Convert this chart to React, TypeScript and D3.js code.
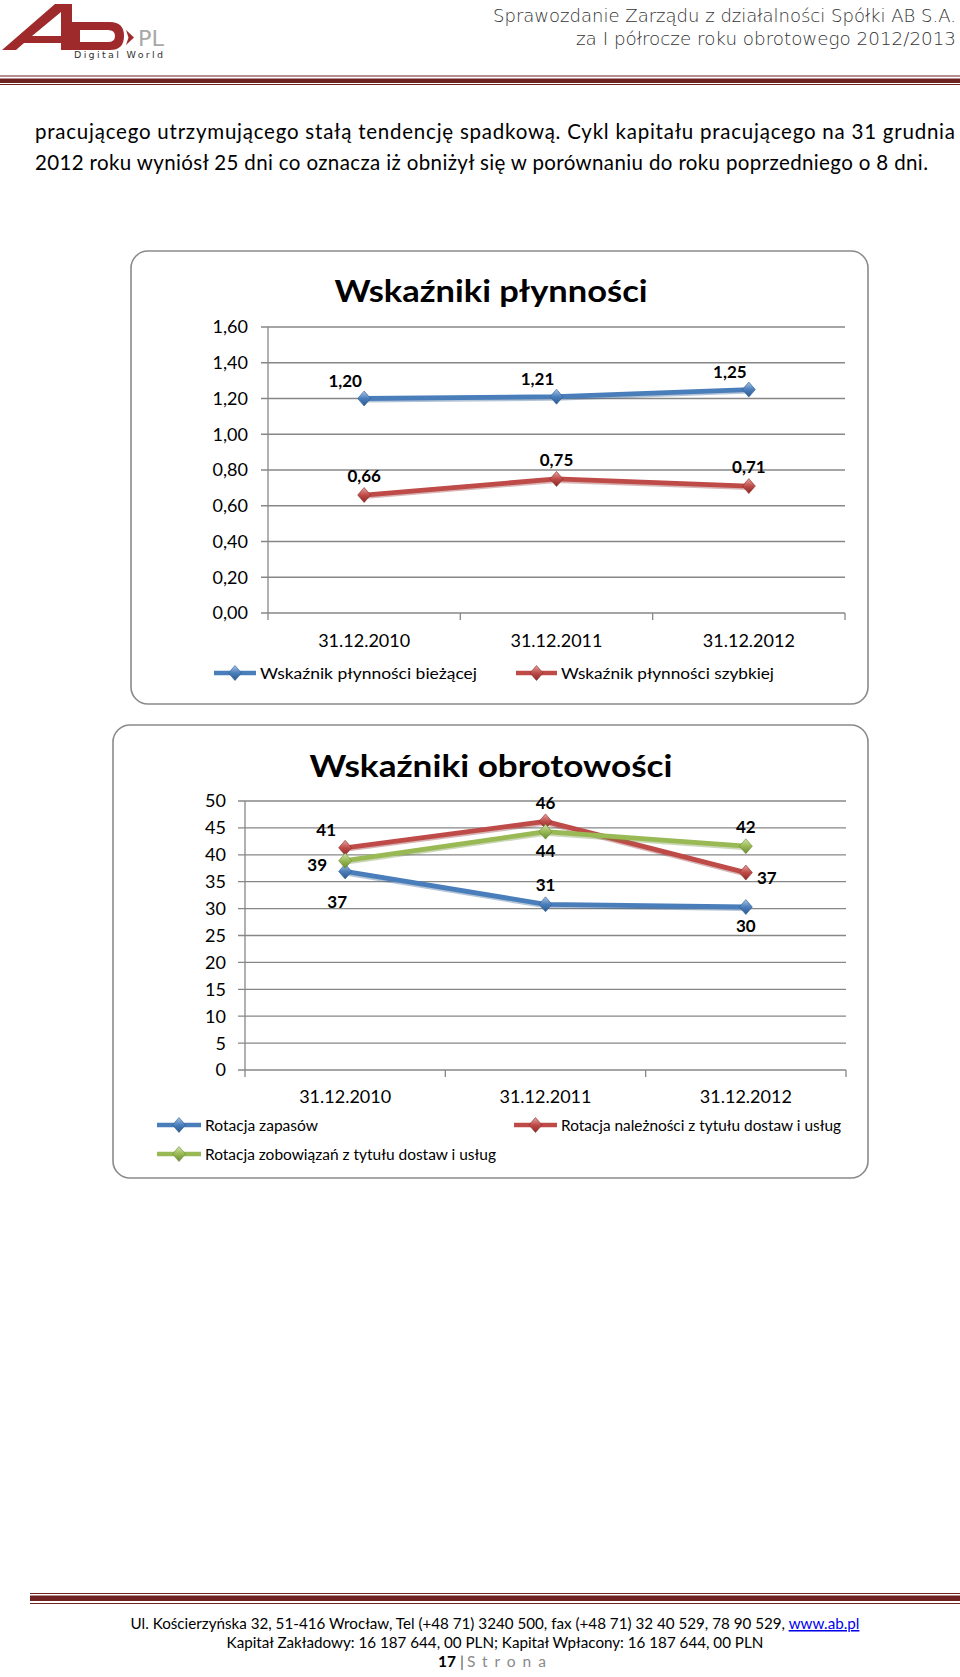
import React from 'react';
import * as d3 from 'd3';

// ---- data ----
const dates = ['31.12.2010', '31.12.2011', '31.12.2012'];

const liquidityNames = ['Wskaźnik płynności bieżącej', 'Wskaźnik płynności szybkiej'];
const liquidityCurrent = [1.2, 1.21, 1.25];
const liquidityQuick = [0.66, 0.75, 0.71];
const liquidityTicks = [0, 0.2, 0.4, 0.6, 0.8, 1.0, 1.2, 1.4, 1.6];

const turnoverNames = [
  'Rotacja zapasów',
  'Rotacja należności z tytułu dostaw i usług',
  'Rotacja zobowiązań z tytułu dostaw i usług',
];
const turnoverInventory = [36.9, 30.8, 30.3];
const turnoverReceivables = [41.3, 46.2, 36.7];
const turnoverPayables = [38.9, 44.3, 41.6];
const turnoverTicks = [0, 5, 10, 15, 20, 25, 30, 35, 40, 45, 50];

// where each value label sits relative to its marker
const liquidityLabelPos = [
  ['aboveLeft', 'aboveLeft', 'aboveLeft'],
  ['above', 'above', 'above'],
];
const turnoverLabelPos = [
  ['belowFar', 'above', 'below'],
  ['aboveLeft', 'above', 'right'],
  ['left', 'below', 'above'],
];

const COLORS = ['#4a7ebb', '#be4b48', '#98b954'];
const DARK = ['#2c5a8f', '#8c2a28', '#6b8c34'];
const LIGHT = ['#a9c4e8', '#e6a4a2', '#d0e4a8'];

const FONT = 'Lato, "Open Sans", sans-serif';
const comma = (f) => (v) => f(v).replace('.', ',');

const labelOffsets = {
  above: [0, -19],
  below: [0, 19],
  left: [-28, 4],
  right: [21, 5],
  aboveLeft: [-19, -18],
  belowFar: [-8, 30],
};

const Diamond = ({ x, y, i, gid }) => (
  <path
    transform={`translate(${x},${y})`}
    d="M0,-7.5L6.5,0L0,7.5L-6.5,0Z"
    fill={`url(#${gid}${i})`}
    stroke={DARK[i]}
    strokeWidth={0.6}
  />
);

const LineChart = ({ id, box, plot, title, titleY, titleLen, series, names, ticks, fmt, tickRight,
  labelPos, xLabelY, legend }) => {
  const x = d3.scaleBand().domain(dates).range([plot.left, plot.right]);
  const y = d3.scaleLinear().domain([ticks[0], ticks[ticks.length - 1]]).range([plot.bottom, plot.top]);
  const cx = (d) => x(d) + x.bandwidth() / 2;
  const line = d3.line().x((d, k) => cx(dates[k])).y((d) => y(d));
  const bounds = d3.range(dates.length + 1).map((k) => plot.left + k * x.bandwidth());

  return (
    <g>
      <defs>
        {series.map((s, i) => (
          <linearGradient key={i} id={`${id}${i}`} x1="0" y1="0" x2="0" y2="1">
            <stop offset="0" stopColor={LIGHT[i]} />
            <stop offset="0.5" stopColor={COLORS[i]} />
            <stop offset="1" stopColor={DARK[i]} />
          </linearGradient>
        ))}
      </defs>
      <rect x={box.x} y={box.y} width={box.w} height={box.h} rx={17} fill="#fff" stroke="#8a8a8a" strokeWidth={1.6} />
      <text x={491} y={titleY} textAnchor="middle" fontFamily={FONT} fontWeight="bold"
        fontSize={31} textLength={titleLen} lengthAdjust="spacingAndGlyphs">{title}</text>

      {/* gridlines + y ticks */}
      {ticks.map((t) => (
        <g key={t}>
          <line x1={plot.left - 7} x2={plot.right} y1={y(t)} y2={y(t)} stroke="#878787" strokeWidth={1.3} />
          <text x={tickRight} y={y(t)} dy="0.36em" textAnchor="end" fontFamily={FONT} fontSize={18}>{fmt(t)}</text>
        </g>
      ))}
      <line x1={plot.left} x2={plot.left} y1={plot.top} y2={plot.bottom} stroke="#878787" strokeWidth={1.3} />
      {bounds.map((b) => (
        <line key={b} x1={b} x2={b} y1={plot.bottom} y2={plot.bottom + 7} stroke="#878787" strokeWidth={1.3} />
      ))}
      {dates.map((d) => (
        <text key={d} x={cx(d)} y={xLabelY} textAnchor="middle" fontFamily={FONT} fontSize={18}>{d}</text>
      ))}

      {/* series */}
      {series.map((s, i) => (
        <g key={i}>
          <path d={line(s)} fill="none" stroke={DARK[i]} strokeOpacity={0.35} strokeWidth={5} transform="translate(0,1.5)" />
          <path d={line(s)} fill="none" stroke={COLORS[i]} strokeWidth={4.8} strokeLinejoin="round" />
          {s.map((v, k) => (
            <Diamond key={k} x={cx(dates[k])} y={y(v)} i={i} gid={id} />
          ))}
        </g>
      ))}
      {series.map((s, i) =>
        s.map((v, k) => {
          const [dx, dy] = labelOffsets[labelPos[i][k]];
          return (
            <text key={`${i}-${k}`} x={cx(dates[k]) + dx} y={y(v) + dy} dy="0.36em" textAnchor="middle"
              fontFamily={FONT} fontWeight="bold" fontSize={17}>{fmt(v)}</text>
          );
        })
      )}

      {/* legend */}
      {legend.map((l, i) => (
        <g key={i}>
          <line x1={l.x1} x2={l.x2} y1={l.y} y2={l.y} stroke={COLORS[i]} strokeWidth={4.5} />
          <Diamond x={(l.x1 + l.x2) / 2} y={l.y} i={i} gid={id} />
          <text x={l.x2 + 4} y={l.y + 6} fontFamily={FONT} fontSize={15.5} textLength={l.len}
            lengthAdjust="spacingAndGlyphs">{names[i]}</text>
        </g>
      ))}
    </g>
  );
};

const Header = () => (
  <g>
    <path d="M2,50L55,4L72,4L72,50L61,50L61,43L24,43L16,50Z M32,36L61,36L61,12Z" fill="#9e2a2b" fillRule="evenodd" />
    <path d="M72,22L110,22Q124,22 124,36Q124,50 110,50L72,50Z M80,30L108,30Q115,30 115,36Q115,42 108,42L80,42Z"
      fill="#9e2a2b" fillRule="evenodd" />
    <path d="M126,30L134,37.5L126,45L128.5,37.5Z" fill="#9e2a2b" />
    <text x={138} y={46} fontFamily="DejaVu Sans" fontSize={21} fill="#a8a8a8" textLength={26}
      lengthAdjust="spacingAndGlyphs">PL</text>
    <text x={74} y={58} fontFamily="DejaVu Sans" fontSize={9.5} fill="#333" textLength={89}
      lengthAdjust="spacing">Digital World</text>
    <text x={956} y={22} textAnchor="end" fontFamily="DejaVu Sans" fontWeight={200} fontSize={17} fill="#333"
      textLength={463} lengthAdjust="spacingAndGlyphs">Sprawozdanie Zarządu z działalności Spółki AB S.A.</text>
    <text x={956} y={45} textAnchor="end" fontFamily="DejaVu Sans" fontWeight={200} fontSize={17} fill="#333"
      textLength={380} lengthAdjust="spacingAndGlyphs">za I półrocze roku obrotowego 2012/2013</text>
    <rect x={0} y={75.5} width={960} height={1} fill="#6e2222" />
    <rect x={0} y={78.5} width={960} height={4.5} fill="#6e2222" />
    <rect x={0} y={84} width={960} height={1} fill="#6e2222" />
  </g>
);

const Body = () => (
  <g fontFamily={FONT} fontSize={20.5} fill="#000">
    <text x={35} y={139} textLength={920} lengthAdjust="spacing">
      pracującego utrzymującego stałą tendencję spadkową. Cykl kapitału pracującego na 31 grudnia
    </text>
    <text x={35} y={170} textLength={893} lengthAdjust="spacing">
      2012 roku wyniósł 25 dni co oznacza iż obniżył się w porównaniu do roku poprzedniego o 8 dni.
    </text>
  </g>
);

const Footer = () => (
  <g fontFamily={FONT}>
    <rect x={30} y={1593} width={930} height={1} fill="#6e2222" />
    <rect x={30} y={1595.5} width={930} height={5.5} fill="#6e2222" />
    <rect x={30} y={1603} width={930} height={1} fill="#6e2222" />
    <text x={495} y={1629} textAnchor="middle" fontSize={15.2}>
      Ul. Kościerzyńska 32, 51-416 Wrocław, Tel (+48 71) 3240 500, fax (+48 71) 32 40 529, 78 90 529,{' '}
      <tspan fill="#0000ee" textDecoration="underline">www.ab.pl</tspan>
    </text>
    <text x={495} y={1648} textAnchor="middle" fontSize={15.2}>
      Kapitał Zakładowy: 16 187 644, 00 PLN; Kapitał Wpłacony:  16 187 644, 00 PLN
    </text>
    <text x={438} y={1667} fontSize={15.5}>
      <tspan fontWeight="bold">17</tspan>
      <tspan dx={4} fill="#555">|</tspan>
      <tspan dx={3} fill="#8a8a8a" letterSpacing={7}>Strona</tspan>
    </text>
  </g>
);

export default function App() {
  const fmt2 = comma(d3.format('.2f'));
  const fmt0 = d3.format('.0f');
  return (
    <div style={{ position: 'absolute', left: 0, top: 0 }}>
      <svg width={960} height={1677} style={{ display: 'block', background: '#fff' }}>
        <rect width={960} height={1677} fill="#fff" />
        <Header />
        <Body />
        <LineChart
          id="liq"
          box={{ x: 131, y: 251, w: 737, h: 453 }}
          plot={{ left: 268, right: 845, top: 327, bottom: 613 }}
          title="Wskaźniki płynności"
          titleY={302}
          titleLen={313}
          series={[liquidityCurrent, liquidityQuick]}
          names={liquidityNames}
          ticks={liquidityTicks}
          fmt={fmt2}
          tickRight={248}
          labelPos={liquidityLabelPos}
          xLabelY={647}
          legend={[
            { x1: 214, x2: 256, y: 673, len: 217 },
            { x1: 516, x2: 557, y: 673, len: 213 },
          ]}
        />
        <LineChart
          id="rot"
          box={{ x: 113, y: 725, w: 755, h: 453 }}
          plot={{ left: 245, right: 846, top: 801, bottom: 1070 }}
          title="Wskaźniki obrotowości"
          titleY={777}
          titleLen={363}
          series={[turnoverInventory, turnoverReceivables, turnoverPayables]}
          names={turnoverNames}
          ticks={turnoverTicks}
          fmt={fmt0}
          tickRight={226}
          labelPos={turnoverLabelPos}
          xLabelY={1103}
          legend={[
            { x1: 157, x2: 201, y: 1125, len: 113 },
            { x1: 514, x2: 557, y: 1125, len: 280 },
            { x1: 157, x2: 201, y: 1154, len: 291 },
          ]}
        />
        <Footer />
      </svg>
    </div>
  );
}
